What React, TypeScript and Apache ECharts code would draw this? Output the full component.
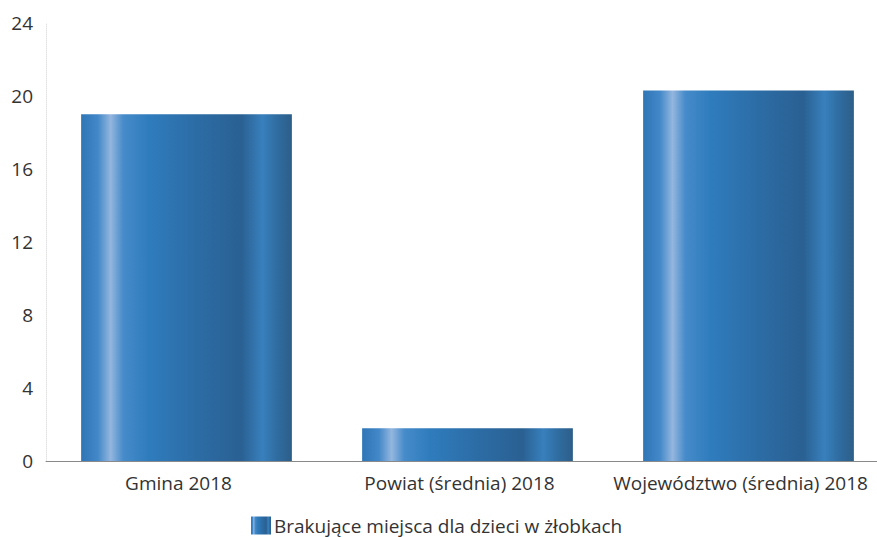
import React, { useEffect, useRef } from "react";
import * as echarts from "echarts";

const categories = ["Gmina 2018", "Powiat (średnia) 2018", "Województwo (średnia) 2018"];
const values = [19, 1.8, 20.3];
const seriesName = "Brakujące miejsca dla dzieci w żłobkach";
const yTicks = { min: 0, max: 24, interval: 4 };

export default function App() {
  const ref = useRef<HTMLDivElement>(null);
  useEffect(() => {
    if (!ref.current) return;
    const chart = echarts.init(ref.current, null, { renderer: "svg" });
    const grad = new echarts.graphic.LinearGradient(0, 0, 1, 0, [
      { offset: 0, color: "#2f76b6" },
      { offset: 0.08, color: "#4388c8" },
      { offset: 0.14, color: "#94b6de" },
      { offset: 0.2, color: "#468bca" },
      { offset: 0.32, color: "#2f7cbd" },
      { offset: 0.55, color: "#2c6ca5" },
      { offset: 0.76, color: "#2a6092" },
      { offset: 0.86, color: "#3880bd" },
      { offset: 0.93, color: "#2f6ca0" },
      { offset: 1, color: "#2d5e89" },
    ]);
    chart.setOption({
      animation: false,
      textStyle: { fontFamily: "Open Sans" },
      grid: { left: 46, top: 23, bottom: 76, right: 0 },
      legend: {
        data: [seriesName],
        top: 511,
        left: 246,
        itemWidth: 20,
        itemHeight: 18,
        itemGap: 4,
        icon: "rect",
        textStyle: { fontSize: 19, color: "#333", fontFamily: "Open Sans", padding: [0, 0, 0, -2] },
      },
      xAxis: {
        type: "category",
        data: categories,
        axisTick: { show: false },
        axisLine: { lineStyle: { color: "#8a8a8a", width: 1 } },
        axisLabel: {
          fontSize: 19,
          color: "#333",
          margin: 12,
          interval: 0,
          fontFamily: "Open Sans",
          padding: [0, 16, 0, 0],
        },
      },
      yAxis: {
        type: "value",
        min: yTicks.min,
        max: yTicks.max,
        interval: yTicks.interval,
        splitLine: { show: false },
        axisLine: { show: true, lineStyle: { color: "#e2e2e2", type: "dotted" } },
        axisTick: { show: false },
        axisLabel: { fontSize: 19, color: "#333", margin: 13, fontFamily: "Open Sans" },
      },
      series: [
        {
          name: seriesName,
          type: "bar",
          data: values,
          barCategoryGap: "25%",
          itemStyle: { color: grad },
        },
      ],
    });
    return () => chart.dispose();
  }, []);
  return (
    <div style={{ position: "absolute", left: 0, top: 0, width: 877, height: 537, overflow: "hidden", background: "#fff" }}>
      <div ref={ref} style={{ width: 889, height: 537 }} />
    </div>
  );
}
